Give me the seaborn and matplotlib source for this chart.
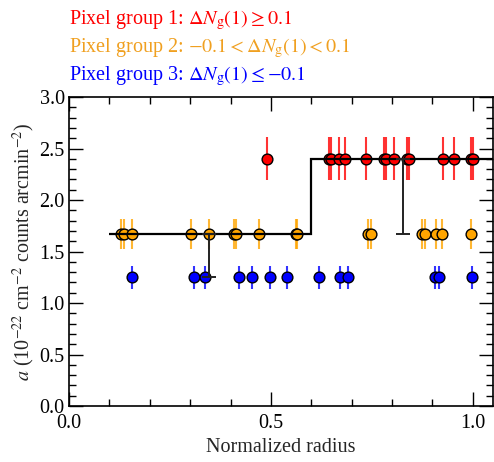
import matplotlib
matplotlib.use("Agg")
import matplotlib.pyplot as plt
import seaborn as sns
import numpy as np
import pandas as pd

# ---- data ----
red_x = [0.490, 0.643, 0.648, 0.669, 0.684, 0.735, 0.780, 0.785, 0.804,
         0.836, 0.842, 0.927, 0.954, 0.995, 1.000]
red_y = [2.40] * len(red_x)
red_err = [0.21] * len(red_x)

orange_x = [0.128, 0.136, 0.156, 0.301, 0.347, 0.409, 0.414, 0.470, 0.561,
            0.565, 0.741, 0.747, 0.875, 0.882, 0.908, 0.923, 0.996]
orange_y = [1.67] * len(orange_x)
orange_err = [0.145] * len(orange_x)

blue_x = [0.156, 0.309, 0.337, 0.420, 0.452, 0.498, 0.540, 0.618, 0.670,
          0.690, 0.906, 0.916, 0.999]
blue_y = [1.25] * len(blue_x)
blue_err = [0.11] * len(blue_x)

model_edges = [0.1, 0.6, 1.06]
model_levels = [1.67, 2.40]
model_err_x = [0.347, 0.826]
model_err_y = [1.67, 2.40]
model_err_low = [0.42, 0.73]

legend_lines = [
    ("Pixel group 1: ", r"$\Delta N_{\mathrm{g}}(1){\geq}0.1$", "#ff0000"),
    ("Pixel group 2: ", r"${-}0.1{<}\Delta N_{\mathrm{g}}(1){<}0.1$", "#f0a020"),
    ("Pixel group 3: ", r"$\Delta N_{\mathrm{g}}(1){\leq}{-}0.1$", "#0000ff"),
]

# ---- style ----
sns.set_theme(style="ticks")
plt.rcParams["font.family"] = ["Liberation Serif", "DejaVu Serif"]
plt.rcParams["mathtext.fontset"] = "stix"
plt.rcParams["font.size"] = 14.5

fig = plt.figure(figsize=(4.94, 4.62), dpi=100)
ax = fig.add_axes([0.1397, 0.1212, 0.998 - 0.1397, 0.790 - 0.1212])

groups = [
    (red_x, red_y, red_err, "#ff0000"),
    (orange_x, orange_y, orange_err, "#ffa500"),
    (blue_x, blue_y, blue_err, "#0000ff"),
]
for gx, gy, ge, col in groups:
    ax.errorbar(gx, gy, yerr=ge, fmt="none", ecolor=col, elinewidth=1.5,
                alpha=0.8, zorder=1)
    df = pd.DataFrame({"x": gx, "y": gy})
    sns.scatterplot(data=df, x="x", y="y", ax=ax, color=col, s=60,
                    edgecolor="black", linewidth=1.0, zorder=2, legend=False)

ax.stairs(model_levels, model_edges, color="black", linewidth=1.6,
          baseline=None, zorder=3)
ax.errorbar(model_err_x, model_err_y, yerr=[model_err_low, [0, 0]],
            fmt="none", ecolor="#222222", elinewidth=1.4, capsize=5,
            capthick=1.4, zorder=3)

ax.set_xlim(0, 1.05)
ax.set_ylim(0, 3.0)
ax.set_xticks([0.0, 0.5, 1.0])
ax.set_yticks(np.arange(0, 3.01, 0.5))
ax.set_xticks(np.arange(0, 1.05, 0.1), minor=True)
ax.set_yticks(np.arange(0, 3.01, 0.1), minor=True)
ax.xaxis.set_major_formatter(matplotlib.ticker.FormatStrFormatter("%.1f"))
ax.yaxis.set_major_formatter(matplotlib.ticker.FormatStrFormatter("%.1f"))
ax.tick_params(which="both", direction="in", top=True, right=True,
               labelsize=14.5, colors="black", width=1.0)
ax.tick_params(axis="x", pad=6)
ax.tick_params(axis="y", pad=3)
ax.tick_params(which="major", length=10)
ax.tick_params(which="minor", length=5)
for s in ax.spines.values():
    s.set_linewidth(1.2)
    s.set_color("black")

ax.set_xlabel("Normalized radius", fontsize=14.5, labelpad=3)
ax.set_ylabel(r"$a$ (10$^{-22}$ cm$^{-2}$ counts arcmin$^{-2}$)",
              fontsize=14.5, labelpad=2)

ys = [0.948, 0.887, 0.827]
for (pre, math, col), yy in zip(legend_lines, ys):
    fig.text(0.1397, yy, pre + math, color=col, fontsize=14.5, va="baseline",
             ha="left")

fig.savefig("out.png", dpi=100)
